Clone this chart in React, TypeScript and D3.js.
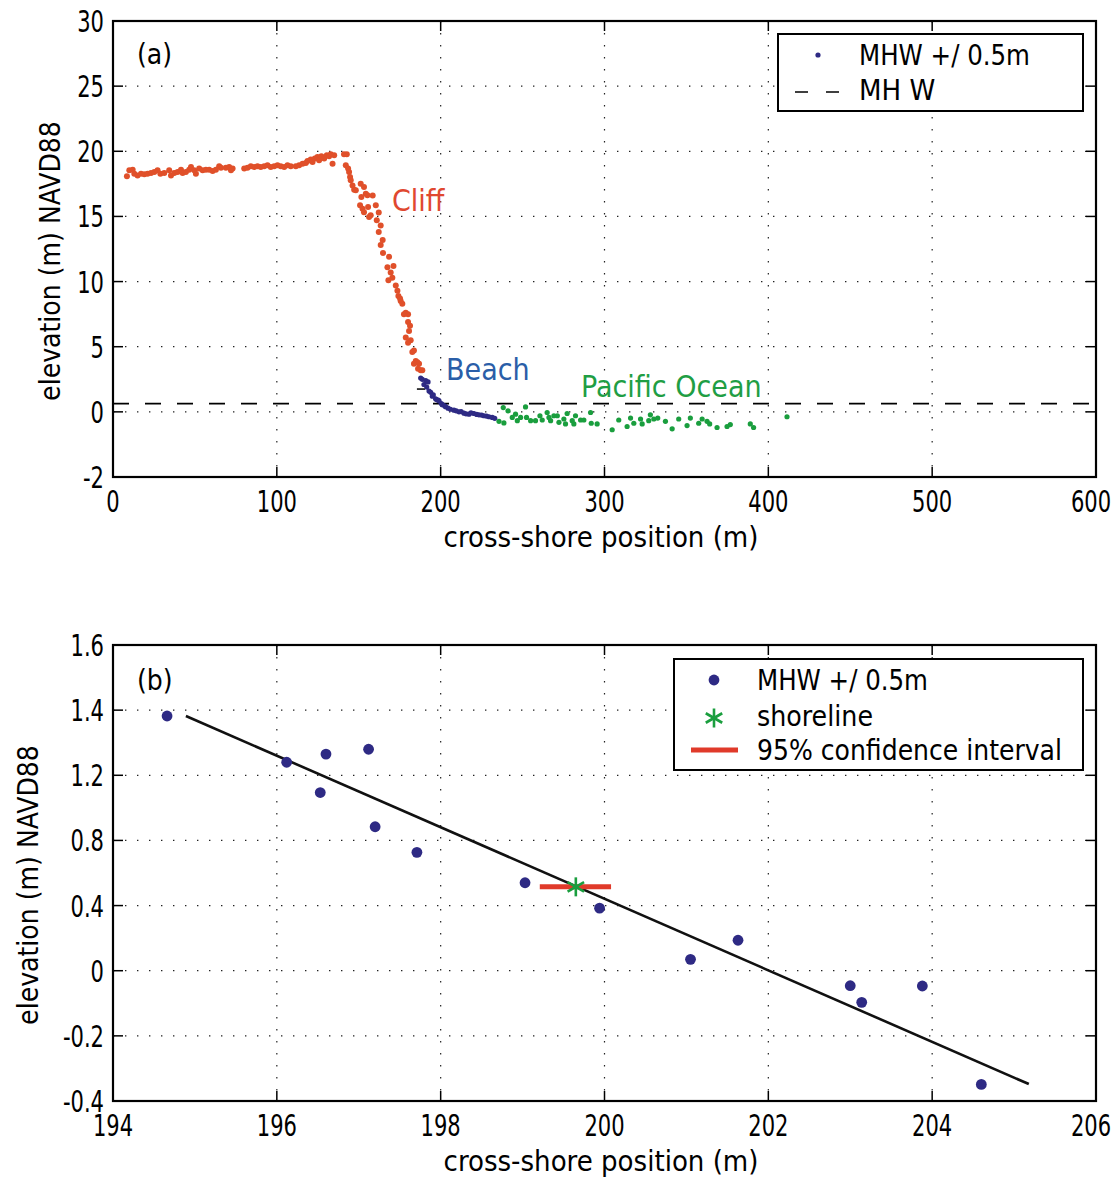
import React from 'react';
import * as d3 from 'd3';

// ---- Panel (a): cross-shore profile ----
const cliffX = [8.5, 9.96, 12.0, 13.0, 15.0, 17.1, 19.1, 21.1, 23.2, 25.2, 27.2, 28.9, 31.3, 34.3, 35.4, 37.4, 39.4, 41.5, 42.5, 44.5, 46.5, 47.6, 49.6, 50.6, 52.6, 54.7, 56.7, 58.7, 60.8, 62.8, 64.8, 65.9, 68.9, 70.9, 73.0, 72.0, 80.1, 82.1, 84.1, 86.2, 88.2, 90.2, 92.3, 94.3, 96.3, 98.4, 100.4, 102.4, 104.5, 106.5, 108.5, 111.6, 113.6, 115.7, 117.7, 118.7, 120.7, 121.8, 123.2, 124.8, 125.8, 127.2, 128.9, 130.5, 131.9, 132.9, 134.0, 135.0, 141.0, 142.7, 142.1, 143.5, 144.1, 144.7, 145.1, 146.2, 147.2, 148.2, 151.2, 153.2, 154.3, 155.3, 151.6, 150.8, 152.3, 153.2, 155.7, 156.3, 158.5, 160.4, 162.2, 157.3, 161.0, 163.4, 162.2, 164.6, 163.4, 164.8, 168.5, 167.5, 171.2, 169.5, 170.5, 168.1, 172.6, 173.6, 174.2, 175.6, 176.6, 175.2, 178.7, 180.1, 177.6, 180.1, 181.3, 180.7, 178.7, 181.7, 180.1, 183.7, 182.7, 184.8, 185.8, 186.8, 183.7, 186.2, 187.8, 188.8];
const cliffY = [18.08, 18.54, 18.59, 18.28, 18.15, 18.28, 18.23, 18.28, 18.33, 18.41, 18.54, 18.28, 18.33, 18.54, 18.15, 18.33, 18.41, 18.59, 18.33, 18.41, 18.59, 18.79, 18.54, 18.28, 18.67, 18.54, 18.59, 18.59, 18.49, 18.59, 18.85, 18.74, 18.74, 18.79, 18.67, 18.54, 18.67, 18.74, 18.85, 18.79, 18.85, 18.79, 18.85, 18.92, 18.79, 18.85, 18.92, 18.85, 18.79, 18.92, 18.85, 18.85, 18.92, 19.05, 19.1, 19.26, 19.36, 19.18, 19.44, 19.56, 19.31, 19.62, 19.44, 19.69, 19.62, 19.77, 19.05, 19.69, 19.77, 19.77, 18.92, 18.67, 18.41, 18.02, 17.77, 17.38, 17.05, 17.0, 17.51, 17.26, 16.74, 16.62, 16.49, 15.85, 15.59, 15.33, 15.72, 14.95, 16.6, 15.85, 15.3, 15.1, 14.7, 14.3, 13.8, 13.2, 12.8, 12.2, 11.9, 11.1, 11.2, 10.7, 10.3, 10.1, 9.7, 9.3, 8.9, 8.5, 8.3, 8.7, 7.6, 7.5, 7.5, 6.9, 6.6, 6.2, 5.7, 5.5, 5.3, 4.7, 4.6, 3.9, 3.8, 3.7, 3.7, 3.3, 3.2, 3.2];

const beachX = [187.8, 188.8, 190.9, 192.3, 189.8, 191.5, 192.9, 193.9, 194.9, 195.5, 196.9, 197.5, 198.5, 199.0, 200.4, 201.0, 202.4, 203.0, 204.5, 206.0, 208.1, 209.5, 211.2, 212.5, 214.2, 215.5, 217.3, 218.5, 220.3, 222.0, 223.4, 225.0, 226.4, 228.0, 229.5, 231.5, 233.0];
const beachY = [2.6, 2.5, 2.4, 2.3, 2.1, 1.9, 1.6, 1.5, 1.2, 1.3, 1.0, 0.95, 0.9, 0.85, 0.64, 0.55, 0.46, 0.4, 0.28, 0.2, 0.13, 0.08, 0.0, 0.02, -0.04, -0.06, -0.07, -0.03, -0.05, -0.08, -0.09, -0.1, -0.12, -0.13, -0.15, -0.17, -0.2];

const oceanX = [235.6, 238.6, 238.2, 241.1, 243.7, 245.7, 246.8, 248.8, 251.8, 252.4, 254.9, 257.9, 260.6, 262.0, 265.0, 266.1, 267.1, 269.1, 271.2, 272.2, 275.2, 276.2, 277.2, 280.3, 281.3, 282.3, 285.4, 287.4, 291.5, 291.9, 295.5, 304.7, 308.7, 313.8, 315.9, 317.9, 322.0, 323.0, 327.0, 328.0, 330.1, 332.5, 337.2, 341.3, 345.3, 350.4, 352.4, 357.5, 359.6, 362.6, 364.2, 368.7, 374.8, 376.8, 389.0, 391.0, 411.4];
const oceanY = [-0.29, -0.34, 0.33, 0.08, -0.17, -0.07, -0.27, -0.17, 0.38, -0.17, -0.27, -0.27, -0.12, -0.25, -0.02, -0.17, -0.27, -0.12, -0.12, -0.32, -0.22, -0.37, -0.05, -0.27, -0.37, -0.12, -0.25, -0.25, -0.02, -0.35, -0.37, -0.55, -0.25, -0.45, -0.19, -0.35, -0.22, -0.37, -0.27, -0.09, -0.22, -0.19, -0.29, -0.52, -0.22, -0.42, -0.19, -0.35, -0.22, -0.29, -0.37, -0.48, -0.45, -0.39, -0.37, -0.48, -0.15];

const mhwElevation = 0.63;
const beachTickX = [185.5, 190.5];
const beachTickY = 1.75;

const aXTicks = [0, 100, 200, 300, 400, 500, 600];
const aYTicks = [-2, 0, 5, 10, 15, 20, 25, 30];

// ---- Panel (b): points within MHW +/- 0.5 m and linear fit ----
const mhwX = [194.66, 196.12, 196.53, 196.6, 197.12, 197.2, 197.71, 199.03, 199.94, 201.05, 201.63, 203.0, 203.14, 203.88, 204.6];
const mhwY = [1.382, 1.24, 1.094, 1.265, 1.28, 0.884, 0.727, 0.54, 0.384, 0.07, 0.187, -0.046, -0.097, -0.047, -0.349];
const fitX = [194.89, 205.18];
const fitY = [1.382, -0.348];
const shorelineX = 199.65;
const shorelineY = 0.515;
const ciX = [199.21, 200.08];

const bXTicks = [194, 196, 198, 200, 202, 204, 206];
const bYTicks = [-0.4, -0.2, 0, 0.4, 0.8, 1.2, 1.4, 1.6];

const FONT = "'DejaVu Sans Condensed','Liberation Sans Narrow','Arial Narrow',sans-serif";
const RED = '#e0502a';
const NAVY = '#2e2a84';
const GREEN = '#1a9e3e';

const L = 113, R = 1096;
const A_TOP = 21, A_BOT = 477;
const B_TOP = 645, B_BOT = 1101;
const STEP_A = (A_BOT - A_TOP) / 7;
const STEP_B = (B_BOT - B_TOP) / 7;

const xA = d3.scaleLinear().domain([0, 600]).range([L, R]);
const yA = d3.scaleLinear().domain(aYTicks).range(aYTicks.map((_, i) => A_BOT - i * STEP_A));
const xB = d3.scaleLinear().domain([194, 206]).range([L, R]);
const yB = d3.scaleLinear().domain(bYTicks).range(bYTicks.map((_, i) => B_BOT - i * STEP_B));

type Sc = d3.ScaleLinear<number, number>;

// condensed numeric label
function Num({ x, y, anchor, children }: { x: number; y: number; anchor: 'middle' | 'end'; children: string }) {
  return (
    <text transform={`translate(${x},${y}) scale(0.78,1)`} textAnchor={anchor} fontSize={30} fontFamily={FONT}>
      {children}
    </text>
  );
}

function Frame({ x, y, xt, yt, top, bot }: { x: Sc; y: Sc; xt: number[]; yt: number[]; top: number; bot: number }) {
  const TL = 10;
  return (
    <g>
      {xt.slice(1, -1).map((v) => (
        <line key={'gx' + v} x1={x(v)} x2={x(v)} y1={top} y2={bot} stroke="#222" strokeWidth={1.2} strokeDasharray="1.4 10.6" />
      ))}
      {yt.slice(1, -1).map((v) => (
        <line key={'gy' + v} x1={L} x2={R} y1={y(v)} y2={y(v)} stroke="#222" strokeWidth={1.2} strokeDasharray="1.4 10.6" />
      ))}
      {xt.map((v) => (
        <g key={'tx' + v}>
          <line x1={x(v)} x2={x(v)} y1={bot} y2={bot - TL} stroke="#000" strokeWidth={1.5} />
          <line x1={x(v)} x2={x(v)} y1={top} y2={top + TL} stroke="#000" strokeWidth={1.5} />
          <Num x={Math.min(x(v), 1091)} y={bot + 35} anchor="middle">{String(v)}</Num>
        </g>
      ))}
      {yt.map((v) => (
        <g key={'ty' + v}>
          <line x1={L} x2={L + TL} y1={y(v)} y2={y(v)} stroke="#000" strokeWidth={1.5} />
          <line x1={R} x2={R - TL} y1={y(v)} y2={y(v)} stroke="#000" strokeWidth={1.5} />
          <Num x={104} y={y(v) + 11} anchor="end">{String(v)}</Num>
        </g>
      ))}
      <rect x={L} y={top} width={R - L} height={bot - top} fill="none" stroke="#000" strokeWidth={2.2} />
    </g>
  );
}

function Star({ cx, cy, r, color, w }: { cx: number; cy: number; r: number; color: string; w: number }) {
  const arms = [90, 30, -30];
  return (
    <g stroke={color} strokeWidth={w}>
      {arms.map((a) => {
        const dx = r * Math.cos((a * Math.PI) / 180);
        const dy = r * Math.sin((a * Math.PI) / 180);
        return <line key={a} x1={cx - dx} y1={cy - dy} x2={cx + dx} y2={cy + dy} />;
      })}
    </g>
  );
}

export default function App() {
  return (
    <svg width={1116} height={1180} style={{ position: 'absolute', left: 0, top: 0, background: '#fff' }} fontFamily={FONT}>
      <rect width={1116} height={1180} fill="#fff" />
      {/* panel (a) */}
      <Frame x={xA} y={yA} xt={aXTicks} yt={aYTicks} top={A_TOP} bot={A_BOT} />
      <line x1={L} x2={R} y1={yA(mhwElevation)} y2={yA(mhwElevation)} stroke="#000" strokeWidth={1.6} strokeDasharray="16 16" />
      <line x1={xA(beachTickX[0])} x2={xA(beachTickX[1])} y1={yA(beachTickY)} y2={yA(beachTickY)} stroke="#000" strokeWidth={1.5} />
      {cliffX.map((v, i) => <circle key={'c' + i} cx={xA(v)} cy={yA(cliffY[i])} r={3} fill={RED} />)}
      {beachX.map((v, i) => <circle key={'b' + i} cx={xA(v)} cy={yA(beachY[i])} r={2.6} fill={NAVY} />)}
      {oceanX.map((v, i) => <circle key={'o' + i} cx={xA(v)} cy={yA(oceanY[i])} r={2.6} fill={GREEN} />)}
      <text x={137} y={64} fontSize={28}>(a)</text>
      <text x={392} y={211} fontSize={30} fill="#e04830">Cliff</text>
      <text x={446} y={380} fontSize={30} fill="#2a5ea8">Beach</text>
      <text x={581} y={397} fontSize={30} fill="#1f9e44">Pacific Ocean</text>
      <g>
        <rect x={778} y={34} width={305} height={77} fill="#fff" stroke="#000" strokeWidth={2} />
        <circle cx={818} cy={55} r={2.6} fill={NAVY} />
        <text x={859} y={65} fontSize={29} textLength={171} lengthAdjust="spacingAndGlyphs">MHW +/ 0.5m</text>
        <line x1={795} x2={841} y1={92} y2={92} stroke="#000" strokeWidth={1.6} strokeDasharray="13 18" />
        <text x={859} y={100} fontSize={29}>MH W</text>
      </g>
      <text x={601} y={547} textAnchor="middle" fontSize={29}>cross-shore position (m)</text>
      <text transform="translate(60,261) rotate(-90)" textAnchor="middle" fontSize={28}>elevation (m) NAVD88</text>

      {/* panel (b) */}
      <Frame x={xB} y={yB} xt={bXTicks} yt={bYTicks} top={B_TOP} bot={B_BOT} />
      <line x1={xB(fitX[0])} y1={yB(fitY[0])} x2={xB(fitX[1])} y2={yB(fitY[1])} stroke="#111" strokeWidth={2.6} />
      {mhwX.map((v, i) => <circle key={'m' + i} cx={xB(v)} cy={yB(mhwY[i])} r={5.4} fill={NAVY} />)}
      <line x1={xB(ciX[0])} x2={xB(ciX[1])} y1={yB(shorelineY)} y2={yB(shorelineY)} stroke="#e03a2a" strokeWidth={5} />
      <Star cx={xB(shorelineX)} cy={yB(shorelineY)} r={9.5} color={GREEN} w={2.6} />
      <text x={137} y={690} fontSize={28}>(b)</text>
      <g>
        <rect x={674} y={659} width={409} height={111} fill="#fff" stroke="#000" strokeWidth={2} />
        <circle cx={714} cy={680} r={5.4} fill={NAVY} />
        <text x={757} y={690} fontSize={29} textLength={171} lengthAdjust="spacingAndGlyphs">MHW +/ 0.5m</text>
        <Star cx={714} cy={718} r={9.5} color={GREEN} w={2.6} />
        <text x={757} y={726} fontSize={29} textLength={116} lengthAdjust="spacingAndGlyphs">shoreline</text>
        <line x1={691} x2={738} y1={750} y2={750} stroke="#e03a2a" strokeWidth={5} />
        <text x={757} y={760} fontSize={29} textLength={305} lengthAdjust="spacingAndGlyphs">95% confidence interval</text>
      </g>
      <text x={601} y={1171} textAnchor="middle" fontSize={29}>cross-shore position (m)</text>
      <text transform="translate(38,885) rotate(-90)" textAnchor="middle" fontSize={28}>elevation (m) NAVD88</text>
    </svg>
  );
}
